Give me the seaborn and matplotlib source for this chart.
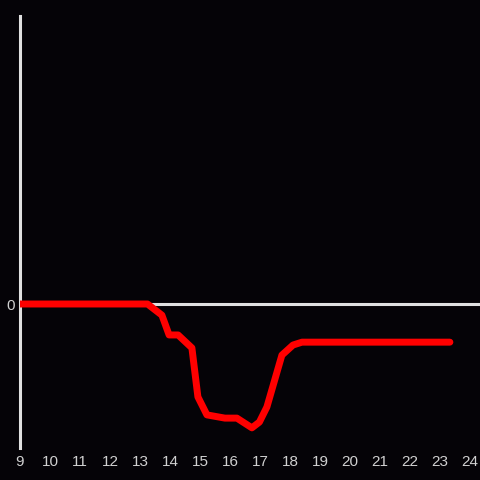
import matplotlib
matplotlib.use("Agg")
import matplotlib.pyplot as plt
import seaborn as sns
import pandas as pd

hours = [9.0, 13.25, 13.73, 13.97, 14.27, 14.73, 14.93, 15.23, 15.83, 16.23,
         16.73, 16.98, 17.23, 17.73, 18.1, 18.4, 23.33]
values = [0.0, 0.0, -0.31, -0.86, -0.86, -1.22, -2.58, -3.08, -3.17, -3.17,
          -3.44, -3.28, -2.86, -1.42, -1.14, -1.06, -1.06]
xticks = list(range(9, 25))
yticks = [0]

bg = "#050307"
fg = "#e0e0e0"

sns.set_style("dark")
plt.rcParams["font.family"] = ["Liberation Sans", "DejaVu Sans"]

df = pd.DataFrame({"hour": hours, "value": values})

fig = plt.figure(figsize=(4.8, 4.8), dpi=100, facecolor=bg)
ax = fig.add_axes([20/480, 32/480, 460/480, 432/480])
ax.set_facecolor(bg)

ax.axhline(0, color=fg, lw=2.2, zorder=1)
sns.lineplot(data=df, x="hour", y="value", color="#ff0000", lw=5, ax=ax, zorder=3)

ax.set_xlim(9, 9 + 460/30)
ax.set_ylim(-4, 8)
ax.set_xticks(xticks)
ax.set_xticklabels([str(t) for t in xticks])
ax.set_yticks(yticks)
ax.set_yticklabels(["0"])
ax.tick_params(axis="both", length=0, colors="#d0d0d0", labelsize=11)
ax.tick_params(axis="x", pad=5)
ax.tick_params(axis="y", pad=4)
ax.grid(False)
ax.set_xlabel("")
ax.set_ylabel("")
for s in ["top", "right", "bottom"]:
    ax.spines[s].set_visible(False)
ax.spines["left"].set_color(fg)
ax.spines["left"].set_linewidth(2.2)

fig.savefig("out.png", dpi=100, facecolor=bg)
